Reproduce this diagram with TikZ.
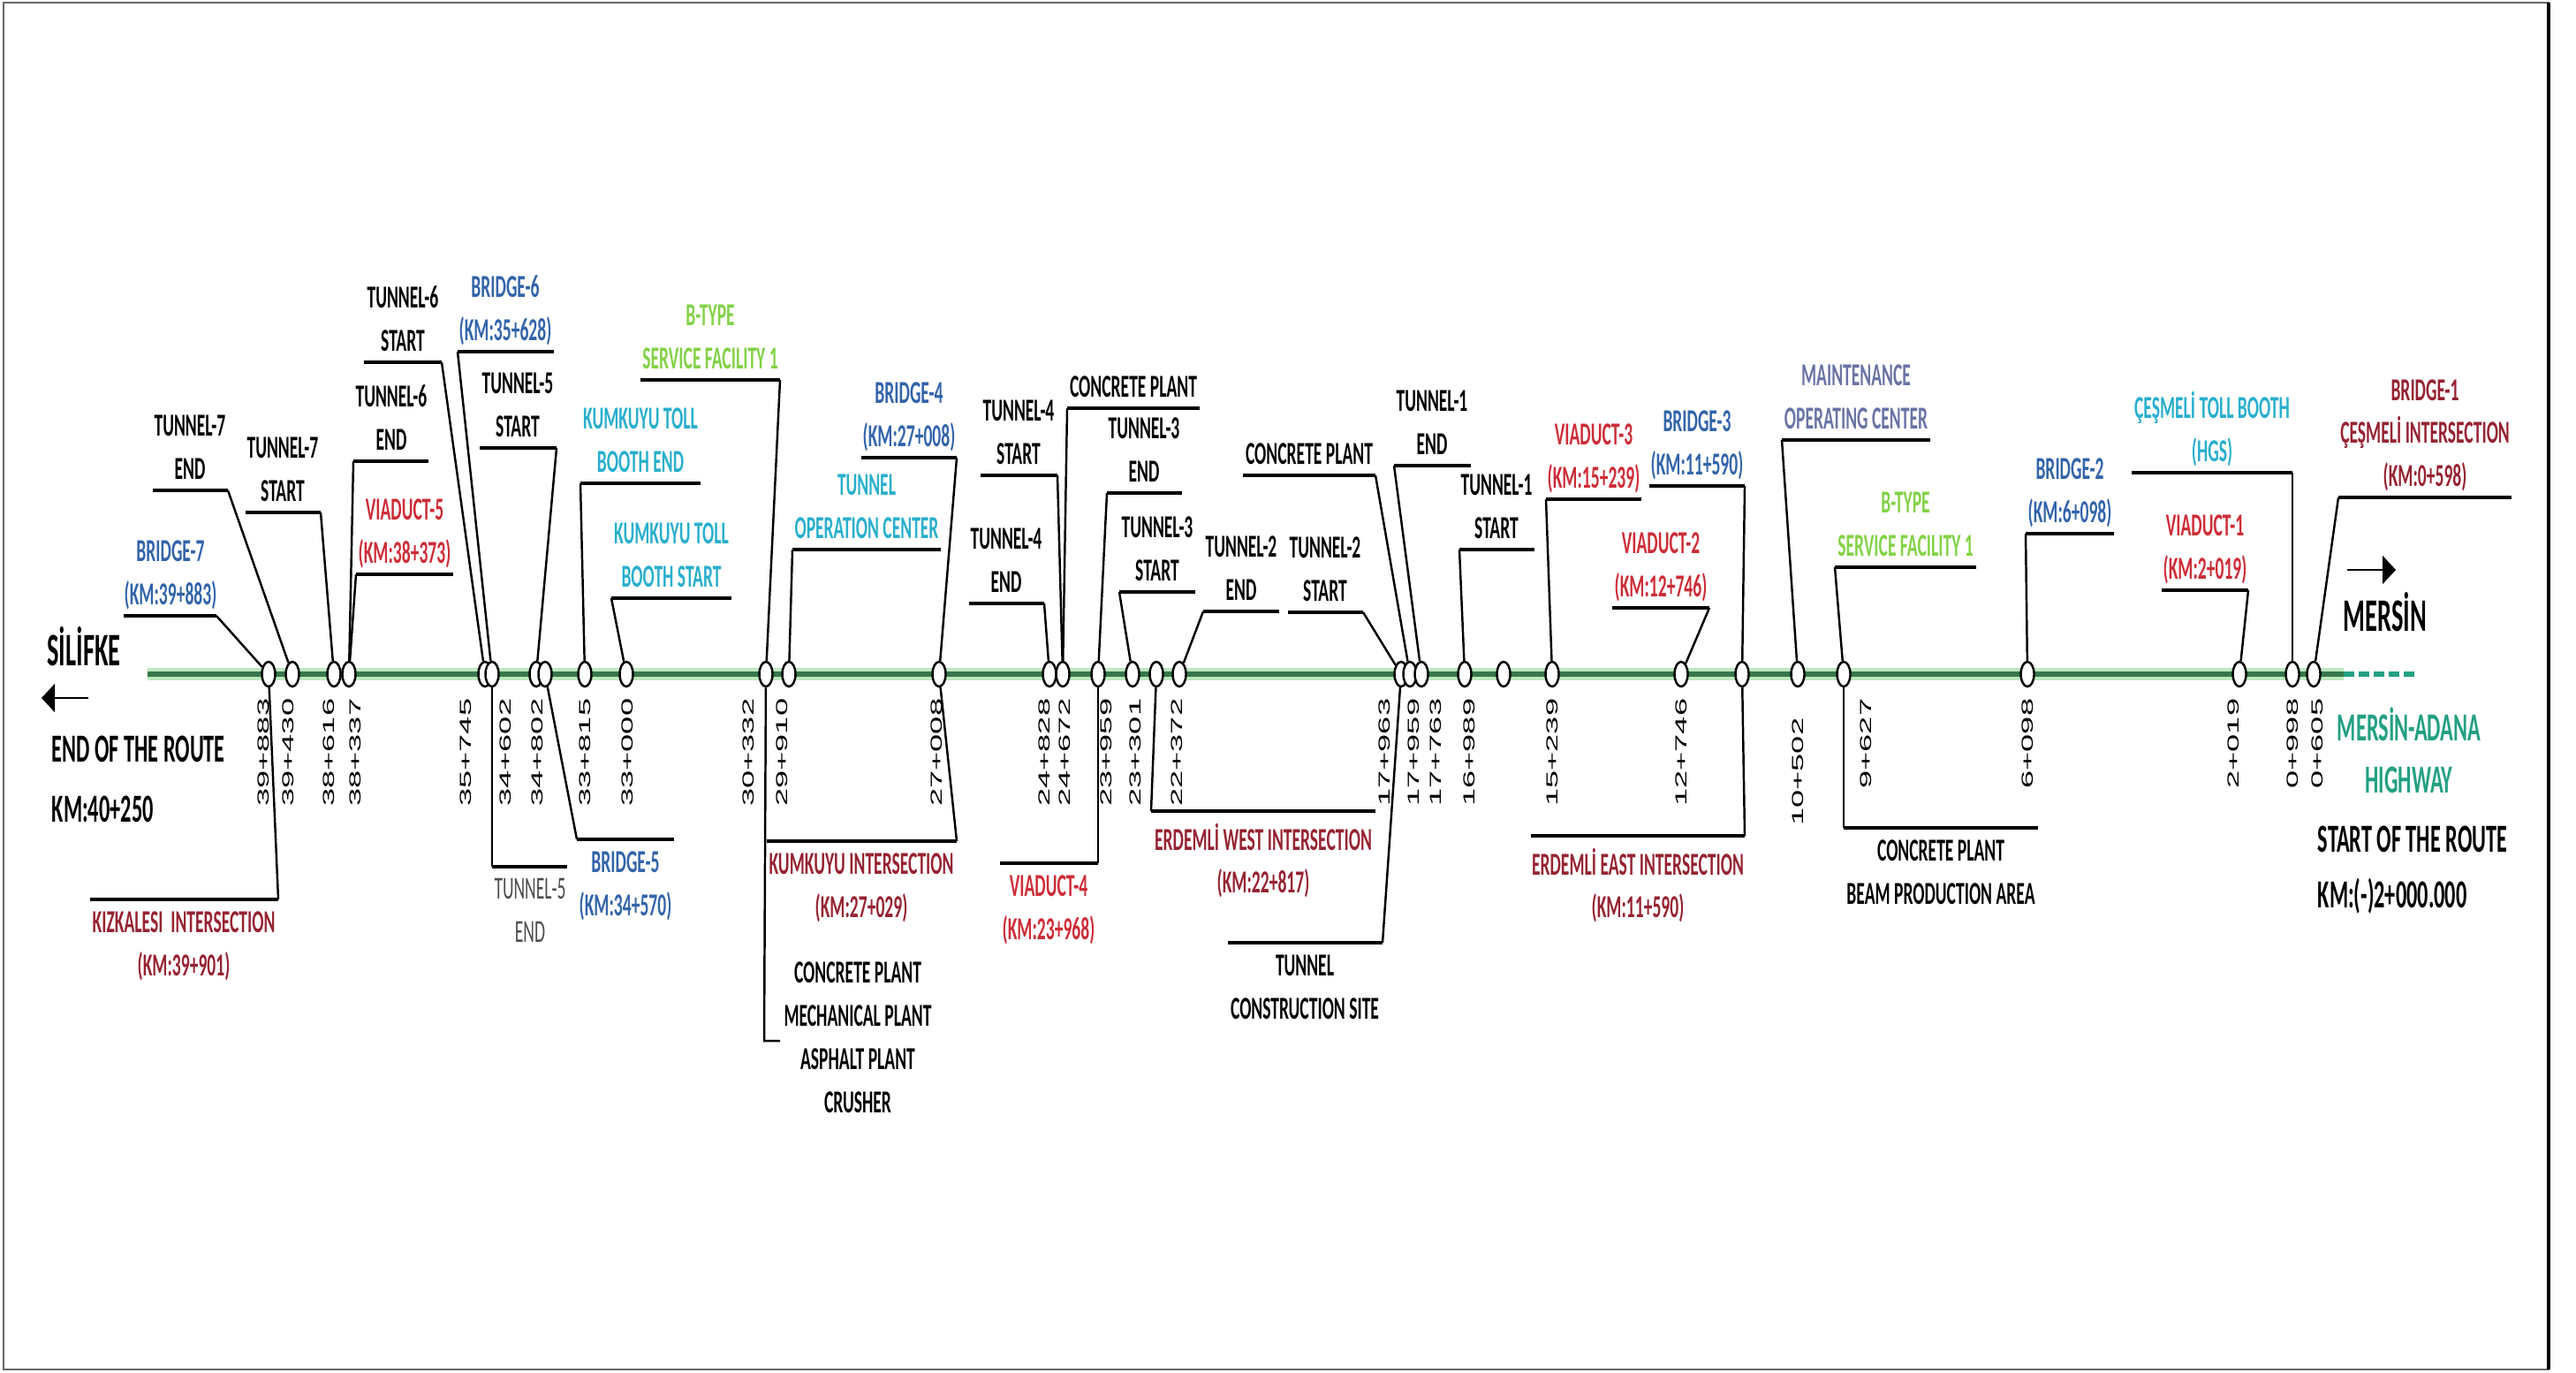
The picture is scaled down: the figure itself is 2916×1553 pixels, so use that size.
\documentclass[tikz,border=0pt]{standalone}
\usepackage{fontspec}
\setmainfont{Carlito}
\newfontfamily\lblfont{Carlito}[FakeStretch=0.54]
\newfontfamily\kmfont{Liberation Sans}[FakeStretch=2.0]
\usetikzlibrary{arrows.meta, shapes.geometric}
\definecolor{bridgeblue}{RGB}{50,100,170}
\definecolor{viared}{RGB}{205,45,55}
\definecolor{intred}{RGB}{150,35,50}
\definecolor{tollcyan}{RGB}{40,175,205}
\definecolor{btgreen}{RGB}{130,210,70}
\definecolor{mocslate}{RGB}{105,115,165}
\definecolor{hwteal}{RGB}{35,160,130}
\definecolor{routegreen}{RGB}{55,120,75}
\definecolor{routehalo}{RGB}{190,232,190}

\begin{document}
\begin{tikzpicture}[x=0.01cm, y=-0.01cm,
  st/.style={draw, ellipse, fill=white, minimum width=0.15cm, minimum height=0.28cm, inner sep=0pt, line width=0.7pt},
  km/.style={rotate=90, anchor=east, inner sep=0pt, font=\kmfont\fontsize{5.15}{6}\selectfont},
  lbl/.style={align=center, inner sep=0pt, font=\lblfont\bfseries\fontsize{10.3}{13.9}\selectfont, execute at begin node=\vphantom{()}, execute at end node=\vphantom{()}},
  up/.style={lbl, anchor=south},
  dn/.style={lbl, anchor=north},
  ul/.style={line width=1.1pt},
  ld/.style={line width=0.7pt},
  big/.style={inner sep=0pt, font=\lblfont\bfseries\fontsize{12.8}{18}\selectfont},
  city/.style={inner sep=0pt, font=\lblfont\bfseries\fontsize{15}{18}\selectfont},
  dir/.style={line width=0.5pt, -{Triangle[length=0.15cm, width=0.32cm]}},
  frame/.style={draw=black!60, line width=0.8pt}]
  \useasboundingbox (0,0) rectangle (2916,1553);
  \draw[frame] (4,3) rectangle (2885,1550);
  \draw[line width=1.2pt] (2885,3) -- (2885,1550);

  % route
  \draw[line width=4.2pt, routehalo] (167,763) coordinate (rA) -- (2653,763) coordinate (rB);
  \draw[line width=1.5pt, routegreen] (rA) -- (rB);
  \draw[line width=1.6pt, hwteal, dash pattern=on 0.12cm off 0.05cm] (rB) -- (2733,763) coordinate (rC);

  % stations
  \node[st] (s01) at (304,763) {};
  \node[st] (s02) at (331,763) {};
  \node[st] (s03) at (378,763) {};
  \node[st] (s04) at (395,763) {};
  \node[st] (s05) at (549,763) {};
  \node[st] (s06) at (557,763) {};
  \node[st] (s07) at (607,763) {};
  \node[st] (s08) at (617,763) {};
  \node[st] (s09) at (662,763) {};
  \node[st] (s10) at (709,763) {};
  \node[st] (s11) at (867,763) {};
  \node[st] (s12) at (893,763) {};
  \node[st] (s13) at (1063,763) {};
  \node[st] (s14) at (1188,763) {};
  \node[st] (s15) at (1203,763) {};
  \node[st] (s16) at (1243,763) {};
  \node[st] (s17) at (1282,763) {};
  \node[st] (s18) at (1309,763) {};
  \node[st] (s19) at (1335,763) {};
  \node[st] (s20) at (1586,763) {};
  \node[st] (s21) at (1596,763) {};
  \node[st] (s22) at (1609,763) {};
  \node[st] (s23) at (1658,763) {};
  \node[st] (s24) at (1702,763) {};
  \node[st] (s25) at (1757,763) {};
  \node[st] (s26) at (1903,763) {};
  \node[st] (s27) at (1972,763) {};
  \node[st] (s28) at (2035,763) {};
  \node[st] (s29) at (2087,763) {};
  \node[st] (s30) at (2295,763) {};
  \node[st] (s31) at (2535,763) {};
  \node[st] (s32) at (2595,763) {};
  \node[st] (s33) at (2619,763) {};

  % chainages
  \node[km] (k01) at (298,790) {39+883};
  \node[km] (k02) at (326,790) {39+430};
  \node[km] (k03) at (372,790) {38+616};
  \node[km] (k04) at (402,790) {38+337};
  \node[km] (k05) at (527,790) {35+745};
  \node[km] (k06) at (572,790) {34+602};
  \node[km] (k07) at (608,790) {34+802};
  \node[km] (k08) at (662,790) {33+815};
  \node[km] (k09) at (710,790) {33+000};
  \node[km] (k10) at (847,790) {30+332};
  \node[km] (k11) at (885,790) {29+910};
  \node[km] (k12) at (1060,790) {27+008};
  \node[km] (k13) at (1182,790) {24+828};
  \node[km] (k14) at (1205,790) {24+672};
  \node[km] (k15) at (1252,790) {23+959};
  \node[km] (k16) at (1285,790) {23+301};
  \node[km] (k17) at (1332,790) {22+372};
  \node[km] (k18) at (1567,790) {17+963};
  \node[km] (k19) at (1600,790) {17+959};
  \node[km] (k20) at (1625,790) {17+763};
  \node[km] (k21) at (1663,790) {16+989};
  \node[km] (k22) at (1757,790) {15+239};
  \node[km] (k23) at (1903,790) {12+746};
  \node[km] (k24) at (2035,812) {10+502};
  \node[km] (k25) at (2112,790) {9+627};
  \node[km] (k26) at (2295,790) {6+098};
  \node[km] (k27) at (2528,790) {2+019};
  \node[km] (k28) at (2595,790) {0+998};
  \node[km] (k29) at (2623,790) {0+605};

  % labels above the route
  \node[up, text=bridgeblue] (bridge7) at (193,691) {BRIDGE-7\\(KM:39+883)};
  \draw[ul] (140,697) coordinate (bridge7L) -- (245,697) coordinate (bridge7R);
  \draw[ld] (bridge7R) -- (s01);
  \node[up] (tun7e) at (215,549) {TUNNEL-7\\END};
  \draw[ul] (173,555) coordinate (tun7eL) -- (258,555) coordinate (tun7eR);
  \draw[ld] (tun7eR) -- (s02);
  \node[up] (tun7s) at (320,574) {TUNNEL-7\\START};
  \draw[ul] (278,580) coordinate (tun7sL) -- (363,580) coordinate (tun7sR);
  \draw[ld] (tun7sR) -- (s03);
  \node[up] (tun6e) at (443,516) {TUNNEL-6\\END};
  \draw[ul] (400,522) coordinate (tun6eL) -- (485,522) coordinate (tun6eR);
  \draw[ld] (tun6eL) -- (s04);
  \node[up, text=viared] (via5) at (458,644) {VIADUCT-5\\(KM:38+373)};
  \draw[ul] (403,650) coordinate (via5L) -- (513,650) coordinate (via5R);
  \draw[ld] (via5L) -- (s04);
  \node[up] (tun6s) at (456,404) {TUNNEL-6\\START};
  \draw[ul] (412,410) coordinate (tun6sL) -- (500,410) coordinate (tun6sR);
  \draw[ld] (tun6sR) -- (s05);
  \node[up, text=bridgeblue] (bridge6) at (572,392) {BRIDGE-6\\(KM:35+628)};
  \draw[ul] (518,398) coordinate (bridge6L) -- (627,398) coordinate (bridge6R);
  \draw[ld] (bridge6L) -- (s06);
  \node[up] (tun5s) at (586,501) {TUNNEL-5\\START};
  \draw[ul] (543,507) coordinate (tun5sL) -- (630,507) coordinate (tun5sR);
  \draw[ld] (tun5sR) -- (s07);
  \node[up, text=tollcyan] (tollend) at (725,541) {KUMKUYU TOLL\\BOOTH END};
  \draw[ul] (657,547) coordinate (tollendL) -- (793,547) coordinate (tollendR);
  \draw[ld] (tollendL) -- (s09);
  \node[up, text=tollcyan] (tollstart) at (760,671) {KUMKUYU TOLL\\BOOTH START};
  \draw[ul] (692,677) coordinate (tollstartL) -- (828,677) coordinate (tollstartR);
  \draw[ld] (tollstartL) -- (s10);
  \node[up, text=btgreen] (btype1) at (804,424) {B-TYPE\\SERVICE FACILITY 1};
  \draw[ul] (725,430) coordinate (btype1L) -- (883,430) coordinate (btype1R);
  \draw[ld] (btype1R) -- (s11);
  \node[up, text=tollcyan] (tunop) at (981,616) {TUNNEL\\OPERATION CENTER};
  \draw[ul] (897,622) coordinate (tunopL) -- (1065,622) coordinate (tunopR);
  \draw[ld] (tunopL) -- (s12);
  \node[up, text=bridgeblue] (bridge4) at (1029,512) {BRIDGE-4\\(KM:27+008)};
  \draw[ul] (975,518) coordinate (bridge4L) -- (1083,518) coordinate (bridge4R);
  \draw[ld] (bridge4R) -- (s13);
  \node[up] (tun4s) at (1153,532) {TUNNEL-4\\START};
  \draw[ul] (1110,538) coordinate (tun4sL) -- (1197,538) coordinate (tun4sR);
  \draw[ld] (tun4sR) -- (s15);
  \node[up] (tun4e) at (1139,677) {TUNNEL-4\\END};
  \draw[ul] (1097,683) coordinate (tun4eL) -- (1182,683) coordinate (tun4eR);
  \draw[ld] (tun4eR) -- (s14);
  \node[up] (conc1) at (1283,456) {CONCRETE PLANT};
  \draw[ul] (1208,462) coordinate (conc1L) -- (1358,462) coordinate (conc1R);
  \draw[ld] (conc1L) -- (s15);
  \node[up] (tun3e) at (1295,552) {TUNNEL-3\\END};
  \draw[ul] (1253,558) coordinate (tun3eL) -- (1338,558) coordinate (tun3eR);
  \draw[ld] (tun3eL) -- (s16);
  \node[up] (tun3s) at (1310,664) {TUNNEL-3\\START};
  \draw[ul] (1267,670) coordinate (tun3sL) -- (1353,670) coordinate (tun3sR);
  \draw[ld] (tun3sL) -- (s17);
  \node[up] (tun2e) at (1405,686) {TUNNEL-2\\END};
  \draw[ul] (1362,692) coordinate (tun2eL) -- (1448,692) coordinate (tun2eR);
  \draw[ld] (tun2eL) -- (s19);
  \node[up] (tun2s) at (1500,687) {TUNNEL-2\\START};
  \draw[ul] (1458,693) coordinate (tun2sL) -- (1543,693) coordinate (tun2sR);
  \draw[ld] (tun2sR) -- (s20);
  \node[up] (conc2) at (1482,532) {CONCRETE PLANT};
  \draw[ul] (1407,538) coordinate (conc2L) -- (1557,538) coordinate (conc2R);
  \draw[ld] (conc2R) -- (s21);
  \node[up] (tun1e) at (1621,521) {TUNNEL-1\\END};
  \draw[ul] (1578,527) coordinate (tun1eL) -- (1665,527) coordinate (tun1eR);
  \draw[ld] (tun1eL) -- (s22);
  \node[up] (tun1s) at (1694,616) {TUNNEL-1\\START};
  \draw[ul] (1652,622) coordinate (tun1sL) -- (1737,622) coordinate (tun1sR);
  \draw[ld] (tun1sL) -- (s23);
  \node[up, text=viared] (via3) at (1804,559) {VIADUCT-3\\(KM:15+239)};
  \draw[ul] (1750,565) coordinate (via3L) -- (1858,565) coordinate (via3R);
  \draw[ld] (via3L) -- (s25);
  \node[up, text=viared] (via2) at (1880,682) {VIADUCT-2\\(KM:12+746)};
  \draw[ul] (1825,688) coordinate (via2L) -- (1935,688) coordinate (via2R);
  \draw[ld] (via2R) -- (s26);
  \node[up, text=bridgeblue] (bridge3) at (1921,544) {BRIDGE-3\\(KM:11+590)};
  \draw[ul] (1867,550) coordinate (bridge3L) -- (1975,550) coordinate (bridge3R);
  \draw[ld] (bridge3R) -- (s27);
  \node[up, text=mocslate] (moc) at (2101,492) {MAINTENANCE\\OPERATING CENTER};
  \draw[ul] (2017,498) coordinate (mocL) -- (2185,498) coordinate (mocR);
  \draw[ld] (mocL) -- (s28);
  \node[up, text=btgreen] (btype2) at (2157,636) {B-TYPE\\SERVICE FACILITY 1};
  \draw[ul] (2077,642) coordinate (btype2L) -- (2237,642) coordinate (btype2R);
  \draw[ld] (btype2L) -- (s29);
  \node[up, text=bridgeblue] (bridge2) at (2343,598) {BRIDGE-2\\(KM:6+098)};
  \draw[ul] (2293,604) coordinate (bridge2L) -- (2393,604) coordinate (bridge2R);
  \draw[ld] (bridge2L) -- (s30);
  \node[up, text=tollcyan] (cestoll) at (2504,529) {ÇEŞMELİ TOLL BOOTH\\(HGS)};
  \draw[ul] (2413,535) coordinate (cestollL) -- (2595,535) coordinate (cestollR);
  \draw[ld] (cestollR) -- (s32);
  \node[up, text=viared] (via1) at (2496,662) {VIADUCT-1\\(KM:2+019)};
  \draw[ul] (2447,668) coordinate (via1L) -- (2545,668) coordinate (via1R);
  \draw[ld] (via1R) -- (s31);
  \node[up, text=intred] (bridge1) at (2745,557) {BRIDGE-1\\ÇEŞMELİ INTERSECTION\\(KM:0+598)};
  \draw[ul] (2647,563) coordinate (bridge1L) -- (2843,563) coordinate (bridge1R);
  \draw[ld] (bridge1L) -- (s33);

  % labels below the route
  \node[dn, text=intred] (kizk) at (208,1031) {KIZKALESI\ \ INTERSECTION\\(KM:39+901)};
  \draw[ul] (102,1018) coordinate (kizkL) -- (315,1018) coordinate (kizkR);
  \draw[ld] (kizkR) -- (s01);
  \node[dn, text=black!70, font=\lblfont\fontsize{10.3}{13.9}\selectfont] (tun5e) at (600,994) {TUNNEL-5\\END};
  \draw[ul] (557,981) coordinate (tun5eL) -- (642,981) coordinate (tun5eR);
  \draw[ld] (tun5eL) -- (s06);
  \node[dn, text=bridgeblue] (bridge5) at (708,963) {BRIDGE-5\\(KM:34+570)};
  \draw[ul] (653,950) coordinate (bridge5L) -- (763,950) coordinate (bridge5R);
  \draw[ld] (bridge5L) -- (s08);
  \node[dn, text=intred] (kumint) at (975,965) {KUMKUYU INTERSECTION\\(KM:27+029)};
  \draw[ul] (868,952) coordinate (kumintL) -- (1083,952) coordinate (kumintR);
  \draw[ld] (kumintR) -- (s13);
  \node[dn] (plants) at (971,1088) {CONCRETE PLANT\\MECHANICAL PLANT\\ASPHALT PLANT\\CRUSHER};
  \draw[ld] (s11) -- (865,1178) coordinate (plantsA) -- (883,1178) coordinate (plantsB);
  \node[dn, text=viared] (via4) at (1187,990) {VIADUCT-4\\(KM:23+968)};
  \draw[ul] (1132,977) coordinate (via4L) -- (1243,977) coordinate (via4R);
  \draw[ld] (via4R) -- (s16);
  \node[dn, text=intred] (erdw) at (1430,931) {ERDEMLİ WEST INTERSECTION\\(KM:22+817)};
  \draw[ul] (1303,918) coordinate (erdwL) -- (1557,918) coordinate (erdwR);
  \draw[ld] (erdwL) -- (s18);
  \node[dn] (tunsite) at (1477,1080) {TUNNEL\\CONSTRUCTION SITE};
  \draw[ul] (1390,1067) coordinate (tunsiteL) -- (1565,1067) coordinate (tunsiteR);
  \draw[ld] (tunsiteR) -- (s20);
  \node[dn, text=intred] (erde) at (1854,959) {ERDEMLİ EAST INTERSECTION\\(KM:11+590)};
  \draw[ul] (1733,946) coordinate (erdeL) -- (1975,946) coordinate (erdeR);
  \draw[ld] (erdeR) -- (s27);
  \node[dn] (beam) at (2197,950) {CONCRETE PLANT\\BEAM PRODUCTION AREA};
  \draw[ul] (2087,937) coordinate (beamL) -- (2307,937) coordinate (beamR);
  \draw[ld] (beamL) -- (s29);

  % route ends
  \node[city, anchor=base] (silifke) at (95,753) {SİLİFKE};
  \draw[dir] (100,790) coordinate (silA) -- (47,790) coordinate (silB);
  \node[big, anchor=base west] (endrt) at (58,862) {END OF THE ROUTE};
  \node[big, anchor=base west] (endkm) at (58,930) {KM:40+250};
  \node[city, anchor=base] (mersin) at (2700,714) {MERSİN};
  \draw[dir] (2657,645) coordinate (merA) -- (2712,645) coordinate (merB);
  \node[big, text=hwteal, anchor=base] (hwy1) at (2727,838) {MERSİN-ADANA};
  \node[big, text=hwteal, anchor=base] (hwy2) at (2727,897) {HIGHWAY};
  \node[big, anchor=base west] (startrt) at (2623,964) {START OF THE ROUTE};
  \node[big, anchor=base west] (startkm) at (2623,1027) {KM:(-)2+000.000};
\end{tikzpicture}
\end{document}
